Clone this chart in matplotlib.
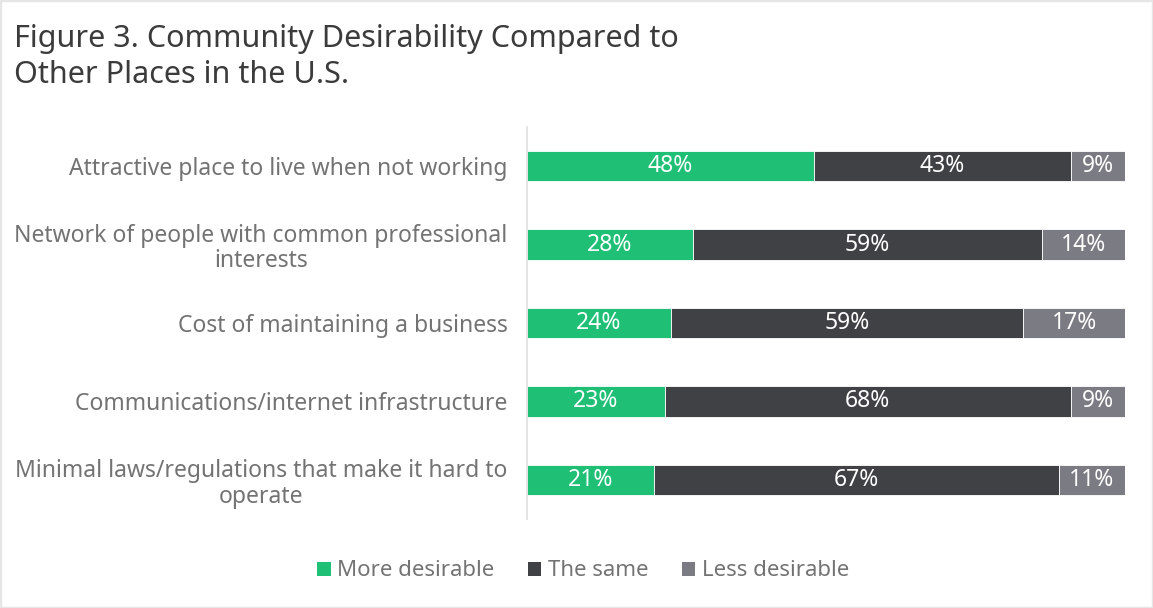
import matplotlib
matplotlib.use("Agg")
import matplotlib.pyplot as plt
from matplotlib.patches import Rectangle, Patch
import numpy as np

plt.rcParams['font.family'] = ['Noto Sans', 'DejaVu Sans']

categories = [
    "Attractive place to live when not working",
    "Network of people with common professional\ninterests",
    "Cost of maintaining a business",
    "Communications/internet infrastructure",
    "Minimal laws/regulations that make it hard to\noperate",
]
series_names = ["More desirable", "The same", "Less desirable"]
more_desirable = [48, 28, 24, 23, 21]
the_same = [43, 59, 59, 68, 67]
less_desirable = [9, 14, 17, 9, 11]
colors = ["#1fc076", "#404145", "#7b7b83"]

fig = plt.figure(figsize=(11.53, 6.08), dpi=100)
ax = fig.add_axes([527 / 1153, 1 - 519 / 608, 598 / 1153, 392 / 608])

data = np.array([more_desirable, the_same, less_desirable], dtype=float)
totals = data.sum(axis=0)
shares = data / totals * 100
y = np.arange(len(categories))
left = np.zeros(len(categories))
for i, (name, color) in enumerate(zip(series_names, colors)):
    ax.barh(y, shares[i], left=left, height=0.39, color=color,
            edgecolor="white", linewidth=0.6, label=name)
    for yi, l, w, v in zip(y, left, shares[i], data[i]):
        ax.text(l + w / 2, yi, f"{int(v)}%", ha="center", va="center",
                color="white", fontsize=16.5)
    left += shares[i]

ax.set_xlim(0, 100)
ax.set_ylim(4.5, -0.5)
ax.set_yticks(y)
ax.set_yticklabels(categories, fontsize=16.5, color="#737373",
                   ha="right", multialignment="center", linespacing=1.1)
ax.tick_params(axis="y", length=0, pad=14)
ax.set_xticks([])
for s in ["top", "right", "bottom"]:
    ax.spines[s].set_visible(False)
ax.spines["left"].set_color("#e0e0e0")
ax.spines["left"].set_linewidth(1.2)

fig.text(14 / 1153, 1 - 57 / 608,
         "Figure 3. Community Desirability Compared to\nOther Places in the U.S.",
         fontsize=22, color="#3b3b3b", ha="left", va="center", linespacing=1.3)

handles = [Patch(facecolor=c, edgecolor="none") for c in colors]
fig.legend(handles, series_names, loc="center", bbox_to_anchor=(583 / 1153, 1 - 571 / 608),
           ncol=3, frameon=False, fontsize=16, handlelength=0.6, handleheight=0.6,
           handletextpad=0.3, columnspacing=1.5, labelcolor="#737373")

fig.patches.append(Rectangle((0, 0), 1, 1, transform=fig.transFigure, fill=False,
                             edgecolor="#e6e6e6", linewidth=2.5))

fig.savefig("out.png", dpi=100, facecolor="white")
